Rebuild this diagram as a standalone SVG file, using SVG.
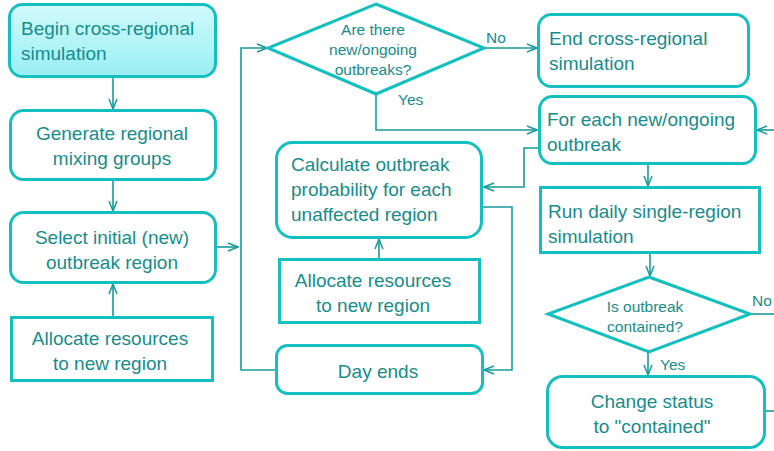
<svg xmlns="http://www.w3.org/2000/svg" width="774" height="451" viewBox="0 0 774 451">
<defs>
<linearGradient id="g1" x1="0" y1="0" x2="0" y2="1">
<stop offset="0" stop-color="#d2fafb"/>
<stop offset="1" stop-color="#98eff4"/>
</linearGradient>
<marker id="ah" viewBox="0 0 12 10" refX="11" refY="5" markerWidth="12" markerHeight="10" markerUnits="userSpaceOnUse" orient="auto">
<path d="M1,1 L11,5 L1,9" fill="none" stroke="#1a9a9a" stroke-width="1.5"/>
</marker>
<style>
.n{fill:#fff;stroke:#14bfbf;stroke-width:3}
.t{font-family:"Liberation Sans",Arial,sans-serif;font-size:19px;fill:#178c8c}
.d{font-family:"Liberation Sans",Arial,sans-serif;font-size:15.5px;fill:#178c8c}
.l{font-family:"Liberation Sans",Arial,sans-serif;font-size:15.5px;fill:#178c8c}
.c{fill:none;stroke:#1a9a9a;stroke-width:1.6}
.m{text-anchor:middle}
</style>
</defs>

<g id="connectors">
<path class="c" d="M113,77 V109" marker-end="url(#ah)"/>
<path class="c" d="M113,180 V211" marker-end="url(#ah)"/>
<path class="c" d="M113,317 V284" marker-end="url(#ah)"/>
<path class="c" d="M216,247 H238" marker-end="url(#ah)"/>
<path class="c" d="M276,370 H241 V48 H267" marker-end="url(#ah)"/>
<path class="c" d="M484,48 H537" marker-end="url(#ah)"/>
<path class="c" d="M376,95 V130 H537" marker-end="url(#ah)"/>
<path class="c" d="M774,130 H757" marker-end="url(#ah)"/>
<path class="c" d="M539,148 H524 V187 H484" marker-end="url(#ah)"/>
<path class="c" d="M482,207 H512 V370 H484" marker-end="url(#ah)"/>
<path class="c" d="M379,259 V239" marker-end="url(#ah)"/>
<path class="c" d="M648,164 V186" marker-end="url(#ah)"/>
<path class="c" d="M650,253 V276" marker-end="url(#ah)"/>
<path class="c" d="M750,314 H774"/>
<path class="c" d="M648,352 V375" marker-end="url(#ah)"/>
<path class="c" d="M765,411 H774"/>
<text class="l" x="486" y="43">No</text>
<text class="l" x="398" y="105">Yes</text>
<text class="l" x="752" y="306">No</text>
<text class="l" x="660" y="370">Yes</text>
</g>

<g id="begin">
<rect x="9.5" y="4.5" width="206" height="72" rx="13" fill="url(#g1)" stroke="#14bfbf" stroke-width="3"/>
<text class="t" x="21" y="35">Begin cross-regional</text>
<text class="t" x="21" y="60">simulation</text>
</g>

<g id="generate">
<rect class="n" x="10.5" y="110.5" width="205" height="69" rx="13"/>
<text class="t m" x="112" y="140">Generate regional</text>
<text class="t m" x="112" y="165">mixing groups</text>
</g>

<g id="select">
<rect class="n" x="10.5" y="212.5" width="205" height="70" rx="13"/>
<text class="t m" x="112" y="244">Select initial (new)</text>
<text class="t m" x="112" y="269">outbreak region</text>
</g>

<g id="allocate1">
<rect class="n" x="11.5" y="317.5" width="201" height="63"/>
<text class="t m" x="110" y="345">Allocate resources</text>
<text class="t m" x="110" y="370">to new region</text>
</g>

<g id="decision1">
<polygon class="n" points="376,4 484,48 376,94 268,48"/>
<text class="d m" x="373" y="35">Are there</text>
<text class="d m" x="373" y="55">new/ongoing</text>
<text class="d m" x="373" y="75">outbreaks?</text>
</g>

<g id="end">
<rect class="n" x="538.5" y="14.5" width="210" height="72" rx="13"/>
<text class="t" x="549" y="45">End cross-regional</text>
<text class="t" x="549" y="70">simulation</text>
</g>

<g id="foreach">
<rect class="n" x="539.5" y="96.5" width="216" height="67" rx="13"/>
<text class="t" x="547" y="126">For each new/ongoing</text>
<text class="t" x="547" y="151">outbreak</text>
</g>

<g id="calculate">
<rect class="n" x="276.5" y="142.5" width="205" height="95" rx="16"/>
<text class="t" x="291" y="171">Calculate outbreak</text>
<text class="t" x="291" y="196">probability for each</text>
<text class="t" x="291" y="221">unaffected region</text>
</g>

<g id="allocate2">
<rect class="n" x="279.5" y="259.5" width="200" height="63"/>
<text class="t m" x="373" y="287">Allocate resources</text>
<text class="t m" x="373" y="312">to new region</text>
</g>

<g id="dayends">
<rect class="n" x="276.5" y="345.5" width="206" height="48" rx="11"/>
<text class="t m" x="378" y="378">Day ends</text>
</g>

<g id="rundaily">
<rect class="n" x="540.5" y="187.5" width="219" height="65"/>
<text class="t" x="548" y="218">Run daily single-region</text>
<text class="t" x="548" y="243">simulation</text>
</g>

<g id="decision2">
<polygon class="n" points="649,277 750,314 649,352 548,314"/>
<text class="d m" x="645" y="312">Is outbreak</text>
<text class="d m" x="645" y="332">contained?</text>
</g>

<g id="change">
<rect class="n" x="547.5" y="376.5" width="217" height="71" rx="15"/>
<text class="t m" x="652" y="408">Change status</text>
<text class="t m" x="652" y="433">to "contained"</text>
</g>
</svg>
